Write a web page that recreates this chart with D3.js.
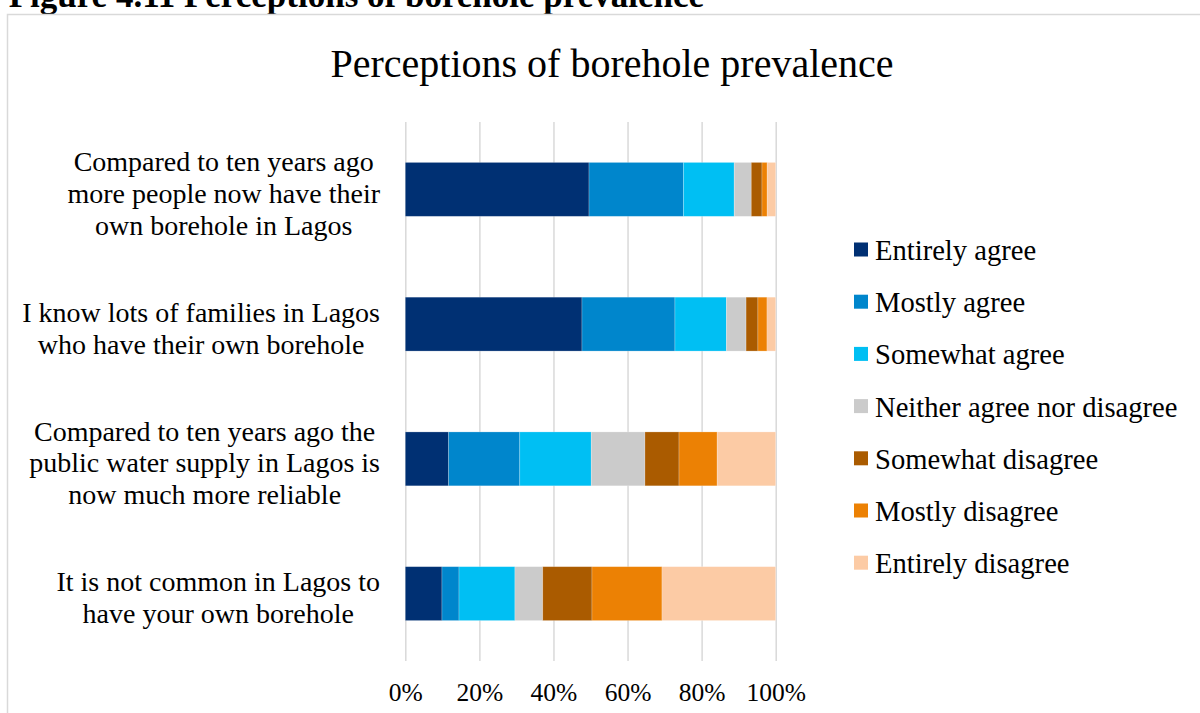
<!DOCTYPE html>
<html>
<head>
<meta charset="utf-8">
<script src="https://cdn.jsdelivr.net/npm/d3@7"></script>
<style>
  body { margin: 0; background: #fff; }
  text { font-family: "Liberation Serif", serif; fill: #000; }
</style>
</head>
<body>
<div id="chartDIV"></div>
<script>
var WIDTH = 1200;
var HEIGHT = 713;
var LINE_HEIGHT = 31.7; //space between wrapped label lines in pixels

//category labels, already wrapped the way the original shows them
var categories = [
  ["Compared to ten years ago", "more people now have their", "own borehole in Lagos"],
  ["I know lots of families in Lagos", "who have their own borehole"],
  ["Compared to ten years ago the", "public water supply in Lagos is", "now much more reliable"],
  ["It is not common in Lagos to", "have your own borehole"]
];

var seriesNames = ["Entirely agree", "Mostly agree", "Somewhat agree", "Neither agree nor disagree",
                   "Somewhat disagree", "Mostly disagree", "Entirely disagree"];
var seriesColors = ["#003073", "#0086cc", "#00bff3", "#cbcbcb", "#aa5b00", "#ec8104", "#fccba5"];

//percentages per category (top to bottom)
var entirelyAgree     = [49.6, 47.7, 11.7,  9.9];
var mostlyAgree       = [25.5, 25.1, 19.2,  4.6];
var somewhatAgree     = [13.7, 13.9, 19.3, 15.1];
var neitherAgree      = [ 4.6,  5.3, 14.5,  7.5];
var somewhatDisagree  = [ 2.9,  3.2,  9.2, 13.3];
var mostlyDisagree    = [ 1.4, 2.45, 10.3, 18.9];
var entirelyDisagree  = [ 2.3, 2.35, 15.8, 30.7];

var tickValues = [0, 0.2, 0.4, 0.6, 0.8, 1];

var seriesValues = [entirelyAgree, mostlyAgree, somewhatAgree, neitherAgree,
                    somewhatDisagree, mostlyDisagree, entirelyDisagree];

//one row per category for d3.stack
var table = categories.map(function(c, i) {
  var row = {category: i};
  seriesNames.forEach(function(s, j) { row[s] = seriesValues[j][i]; });
  return row;
});

var svg = d3.select("#chartDIV")
  .append("svg")
  .attr("width", WIDTH)
  .attr("height", HEIGHT);

//page heading, cut off by the top edge in the original
svg.append("text")
  .attr("x", 704)
  .attr("y", 6.5)
  .attr("text-anchor", "end")
  .style("font-weight", "bold")
  .style("font-size", "35px")
  .text("Figure 4.11 Perceptions of borehole prevalence");

//chart border
svg.append("rect")
  .attr("x", 7.5)
  .attr("y", 14.5)
  .attr("width", 1210)
  .attr("height", 720)
  .attr("fill", "none")
  .attr("stroke", "#d9d9d9")
  .attr("stroke-width", 1.5);

svg.append("text")
  .attr("x", 612)
  .attr("y", 76.5)
  .attr("text-anchor", "middle")
  .style("font-size", "40px")
  .text("Perceptions of borehole prevalence");

var x = d3.scaleLinear().domain([0, 1]).range([405.3, 775.7]);
var y = d3.scaleBand()
  .domain(d3.range(categories.length))
  .range([122, 661])
  .paddingInner(0.6)
  .paddingOuter(0.3);

//gridlines + tick labels
var axis = svg.append("g")
  .attr("transform", "translate(0,661)")
  .call(d3.axisBottom(x)
    .tickValues(tickValues)
    .tickFormat(d3.format(".0%"))
    .tickSize(-539));
axis.select(".domain").remove();
axis.selectAll(".tick line")
  .attr("stroke", "#d9d9d9")
  .attr("stroke-width", 1.5);
axis.selectAll(".tick text")
  .attr("y", 40)
  .attr("dy", 0)
  .attr("fill", "#000")
  .style("font-family", "'Liberation Serif', serif")
  .style("font-size", "25.5px");

var stack = d3.stack()
  .keys(seriesNames)
  .offset(d3.stackOffsetExpand);

svg.append("g")
  .selectAll("g")
  .data(stack(table))
  .enter()
  .append("g")
  .attr("fill", function(d, i) { return seriesColors[i]; })
  .selectAll("rect")
  .data(function(d) { return d; })
  .enter()
  .append("rect")
  .attr("x", function(d) { return x(d[0]); })
  .attr("y", function(d) { return y(d.data.category); })
  .attr("width", function(d) { return x(d[1]) - x(d[0]); })
  .attr("height", y.bandwidth())
  .attr("stroke", "#ffffff")
  .attr("stroke-opacity", 0.3)
  .attr("stroke-width", 0.75);

//category labels: block right aligned to the axis, lines centered inside it
var labelGroup = svg.append("g");
categories.forEach(function(lines, i) {
  var t = labelGroup.append("text")
    .attr("text-anchor", "middle")
    .style("font-size", "28px");
  var center = y(i) + y.bandwidth() / 2;
  lines.forEach(function(line, k) {
    t.append("tspan")
      .attr("y", center + 13.6 + (k - (lines.length - 1) / 2) * LINE_HEIGHT)
      .text(line);
  });
  var maxWidth = 0;
  t.selectAll("tspan").each(function() {
    maxWidth = Math.max(maxWidth, this.getComputedTextLength());
  });
  t.selectAll("tspan").attr("x", 380 - maxWidth / 2);
});

//legend
var legend = svg.append("g")
  .selectAll("g")
  .data(seriesNames)
  .enter()
  .append("g")
  .attr("transform", function(d, i) { return "translate(854," + (249.5 + i * 52.2) + ")"; });
legend.append("rect")
  .attr("x", 0)
  .attr("y", -7)
  .attr("width", 14)
  .attr("height", 14)
  .attr("fill", function(d, i) { return seriesColors[i]; });
legend.append("text")
  .attr("x", 21)
  .attr("y", 10.5)
  .style("font-size", "28.6px")
  .text(function(d) { return d; });
</script>
</body>
</html>
